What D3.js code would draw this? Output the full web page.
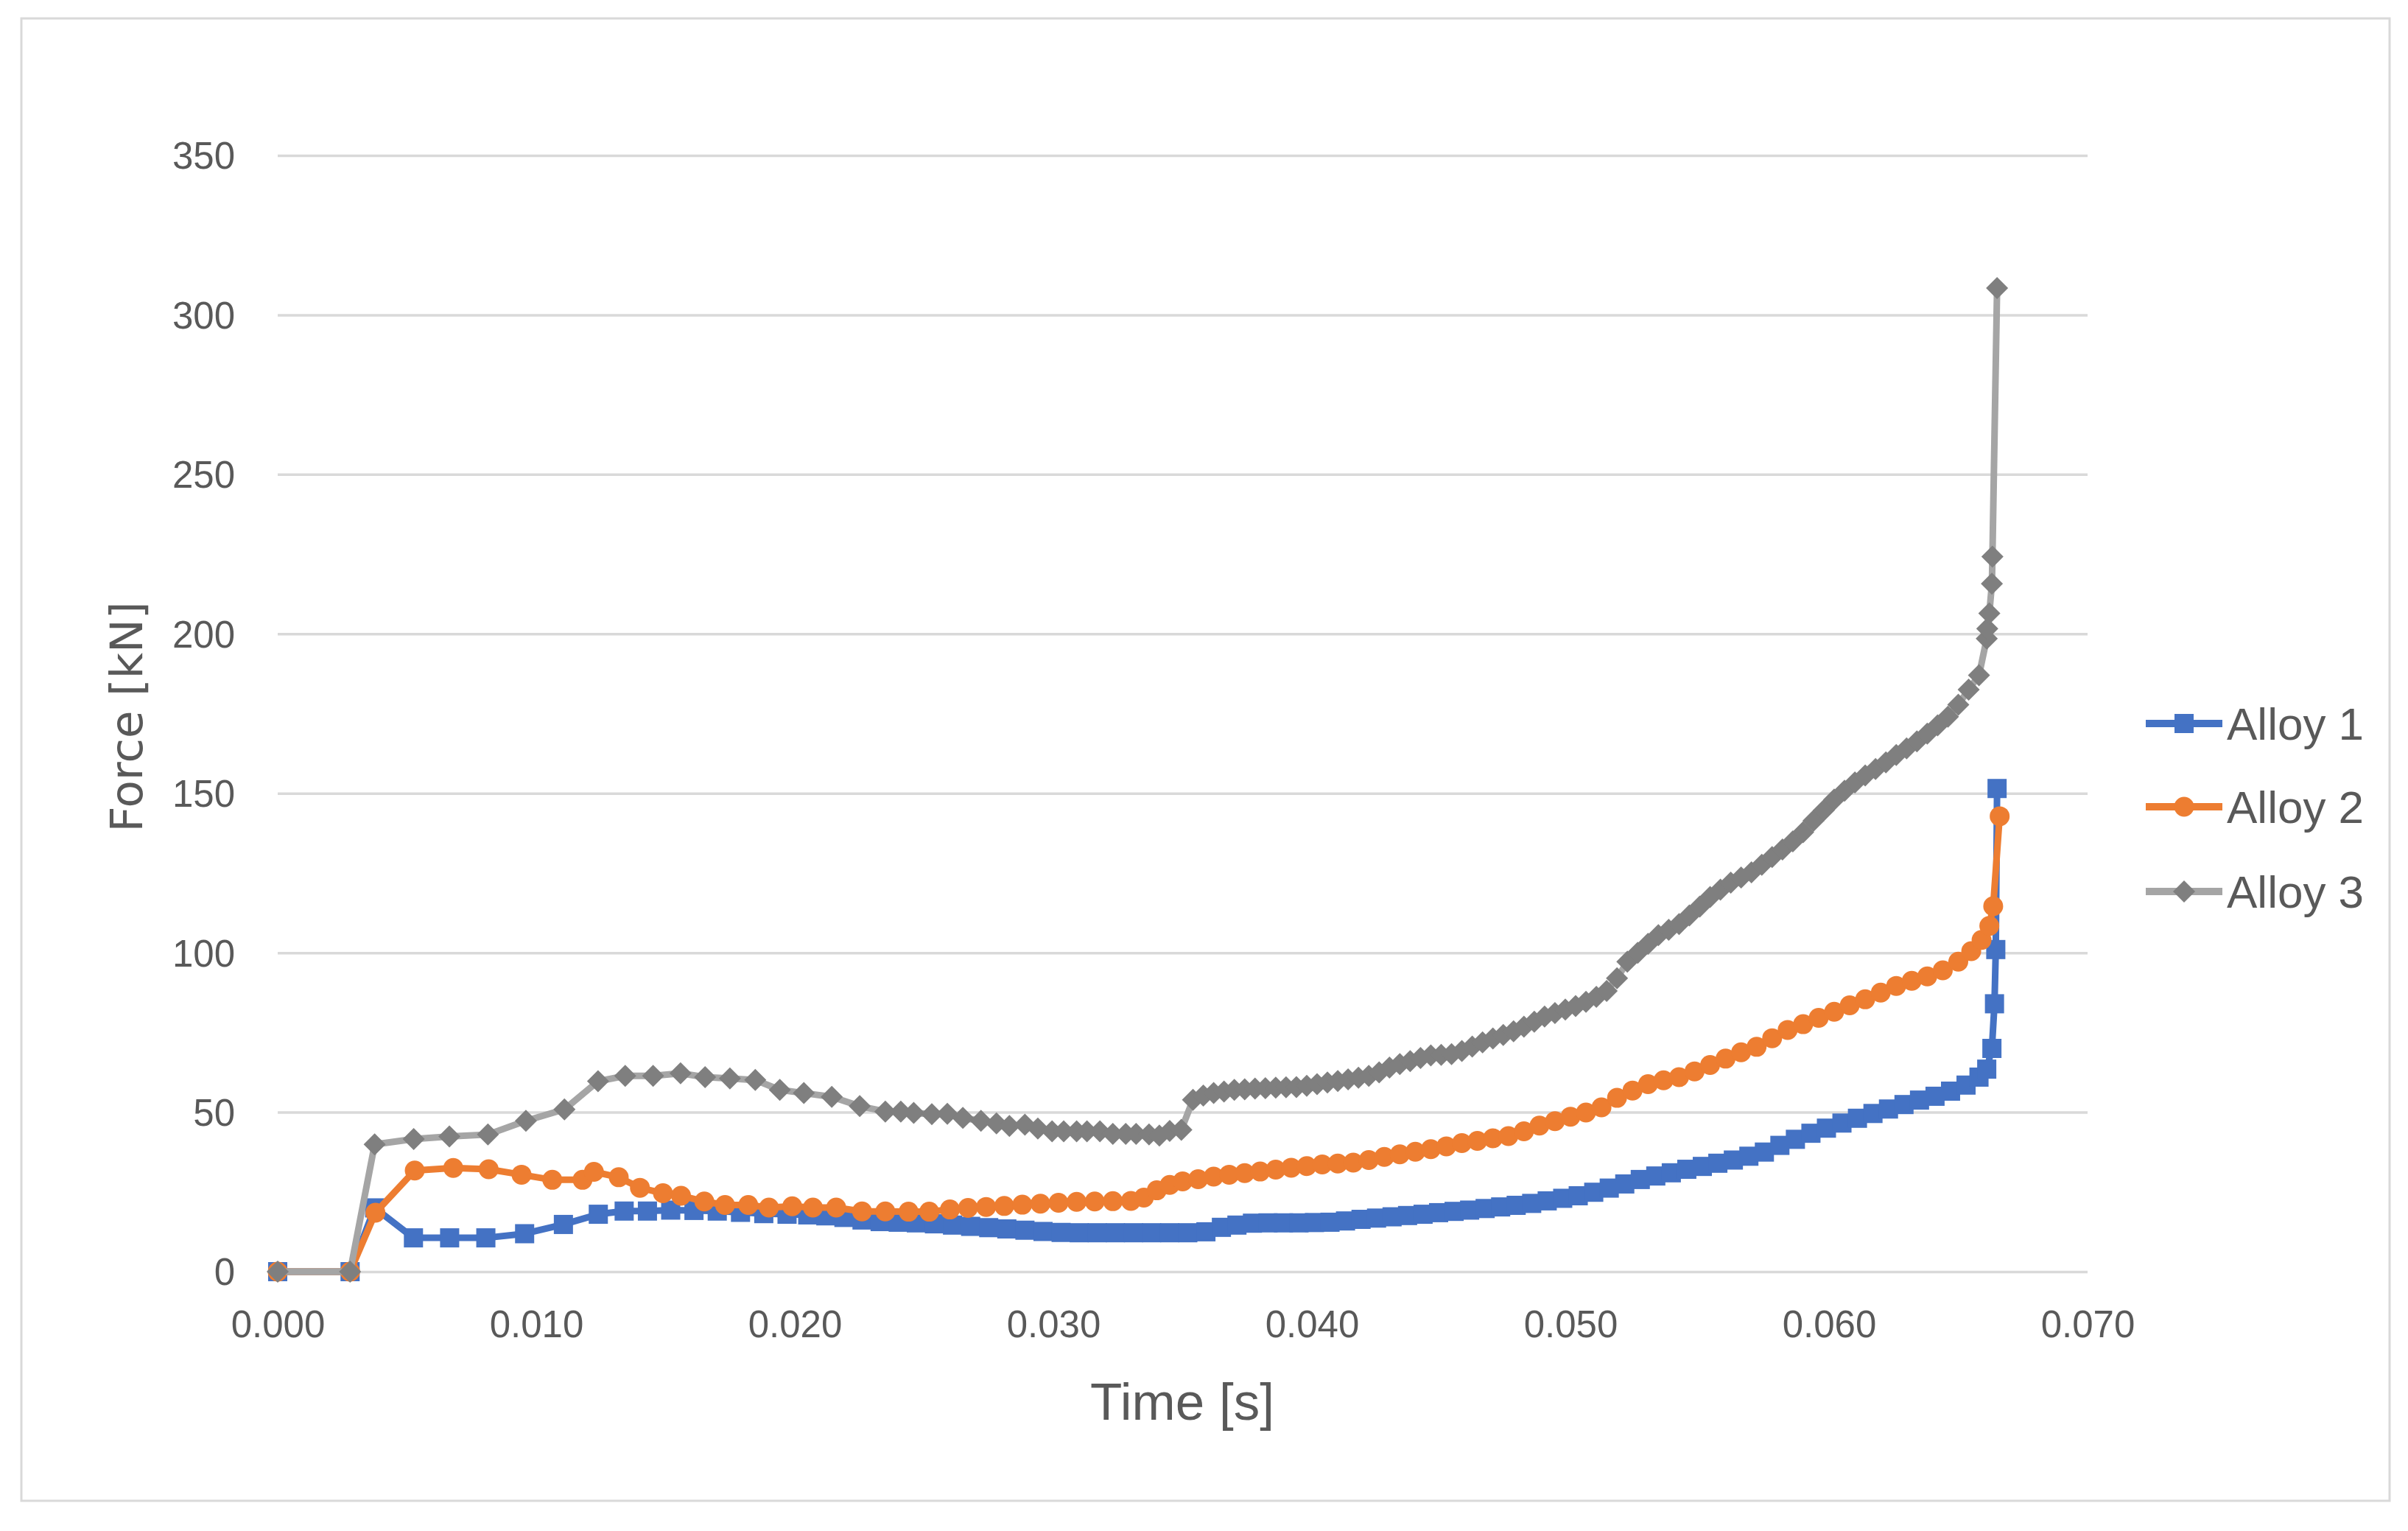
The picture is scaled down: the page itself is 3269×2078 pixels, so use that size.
<!DOCTYPE html>
<html><head><meta charset="utf-8">
<script src="https://cdn.jsdelivr.net/npm/d3@7/dist/d3.min.js"></script>
<style>html,body{margin:0;padding:0;background:#fff;}svg{display:block;}</style>
</head><body>
<script>
// ---------- DATA ----------
const seriesNames = ["Alloy 1", "Alloy 2", "Alloy 3"];
const seriesColors = ["#4472C4", "#ED7D31", "#A5A5A5"];
const markerColors = ["#4472C4", "#ED7D31", "#7F7F7F"];

// time in ms
const alloy1Time = [0,2.8,3.75,5.25,6.65,8.05,9.55,11.05,12.4,13.4,14.3,15.2,16.1,17.0,17.9,18.8,19.7,
  20.5,21.2,21.9,22.6,23.3,24.0,24.7,25.4,26.1,26.8,27.5,28.2,28.9,29.6,30.3,31.0,31.7,32.4,33.1,33.8,34.5,35.2,35.9,
  36.5,37.1,37.7,38.3,38.9,39.5,40.1,40.7,41.3,41.9,42.5,43.1,43.7,44.3,44.9,45.5,46.1,46.7,47.3,47.9,48.5,49.1,49.7,
  50.3,50.9,51.5,52.1,52.7,53.3,53.9,54.5,55.1,55.7,56.3,56.9,57.5,58.1,58.7,59.3,59.9,60.5,61.1,61.7,62.3,62.9,63.5,
  64.1,64.7,65.3,65.8,66.1,66.3,66.4,66.45,66.5];
const alloy1Force = [0,0,20.0,10.6,10.6,10.6,11.9,14.8,18.0,19.0,19.0,19.3,19.2,19.0,18.6,18.2,18.0,
  17.8,17.5,17.0,16.2,15.7,15.5,15.3,15.0,14.6,14.2,13.8,13.4,13.0,12.6,12.3,12.2,12.2,12.2,12.2,12.2,12.2,12.2,12.5,
  13.9,14.6,15.2,15.3,15.3,15.3,15.4,15.5,15.9,16.4,16.8,17.2,17.6,18.0,18.5,18.9,19.3,19.8,20.3,20.8,21.4,22.2,23.0,
  23.8,24.9,26.2,27.5,28.9,30.0,31.0,32.1,33.0,34.0,35.0,36.2,37.5,39.6,41.5,43.4,45.0,46.6,48.1,49.6,51.0,52.4,53.8,
  55.0,56.6,58.5,61.0,63.5,70.0,84.0,101.0,151.5];

const alloy2Time = [0,2.8,3.78,5.3,6.79,8.16,9.43,10.62,11.79,12.23,13.19,14.01,14.9,15.6,16.5,17.3,18.2,19.0,
  19.9,20.7,21.6,22.6,23.5,24.4,25.2,26.0,26.7,27.4,28.1,28.8,29.5,30.2,30.9,31.6,32.3,33.0,33.5,34.0,34.5,35.0,
  35.6,36.2,36.8,37.4,38.0,38.6,39.2,39.8,40.4,41.0,41.6,42.2,42.8,43.4,44.0,44.6,45.2,45.8,46.4,47.0,
  47.6,48.2,48.8,49.4,50.0,50.6,51.2,51.8,52.4,53.0,53.6,54.2,54.8,55.4,56.0,56.6,57.2,57.8,58.4,59.0,
  59.6,60.2,60.8,61.4,62.0,62.6,63.2,63.8,64.4,65.0,65.5,65.9,66.2,66.35,66.6];
const alloy2Force = [0,0,18.5,31.7,32.5,32.1,30.4,28.8,28.8,31.3,29.6,26.3,24.6,23.8,22.0,20.9,20.9,20.1,
  20.5,20.1,20.1,18.9,18.9,18.8,18.8,19.5,20.0,20.3,20.6,21.0,21.3,21.6,21.9,22.0,22.1,22.2,23.2,25.5,27.2,28.3,
  29.0,29.8,30.4,30.9,31.4,32.0,32.6,33.1,33.6,33.9,34.2,35.0,36.0,36.8,37.6,38.4,39.3,40.3,41.0,41.8,
  42.5,44.0,45.8,47.2,48.6,49.9,51.5,54.5,56.8,58.8,60.0,61.0,62.8,64.8,66.8,68.8,70.5,73.2,75.8,77.6,
  79.6,81.5,83.5,85.4,87.5,89.6,91.2,92.6,94.5,97.2,100.5,104.0,108.4,114.6,142.8];

const alloy3Time = [0,2.8,3.75,5.26,6.64,8.13,9.60,11.09,12.39,13.44,14.52,15.58,16.53,17.49,18.47,19.42,20.35,21.43,22.51,
  23.5,24.1,24.6,25.3,25.9,26.5,27.2,27.8,28.3,28.9,29.4,29.95,30.4,30.9,31.3,31.8,32.3,32.8,33.2,33.7,34.1,34.5,34.95,
  35.4,35.8,36.2,36.6,37.0,37.4,37.8,38.2,38.6,39.0,39.4,39.8,40.2,40.6,41.0,41.4,41.8,42.2,42.6,43.0,
  43.4,43.8,44.2,44.6,45.0,45.4,45.8,46.2,46.6,47.0,47.4,47.8,48.2,48.6,49.0,49.4,49.8,50.2,50.6,51.0,
  51.4,51.8,52.2,52.6,53.0,53.4,53.8,54.2,54.6,55.0,55.4,55.8,56.2,56.6,57.0,57.4,57.8,58.2,58.6,59.0,
  59.4,59.8,60.2,60.6,61.0,61.4,61.8,62.2,62.6,63.0,63.4,63.8,64.2,64.6,65.0,65.4,65.8,
  66.1,66.12,66.2,66.3,66.32,66.5];
const alloy3Force = [0,0,39.9,41.6,42.4,43.0,47.3,50.9,59.7,61.4,61.4,62.2,61.0,60.6,60.1,57.0,56.0,54.8,51.9,
  50.2,50.2,49.8,49.4,49.5,48.2,47.3,46.5,45.7,46.1,44.9,44.0,44.0,44.0,44.0,44.0,43.2,43.2,43.2,43.0,42.7,44.1,44.5,
  53.9,55.2,56.0,56.5,57.0,57.2,57.4,57.5,57.7,57.8,57.9,58.3,58.8,59.3,59.8,60.3,60.8,61.4,62.5,64.0,
  65.1,66.0,67.0,67.8,68.0,68.2,69.2,70.6,71.9,73.1,74.2,75.4,76.8,78.4,80.0,81.1,82.2,83.3,84.6,86.2,
  88.0,92.0,97.2,100.0,102.8,105.5,107.2,109.0,111.7,114.5,117.5,119.8,122.0,123.6,125.2,127.6,130.0,132.4,134.9,137.8,
  141.4,144.7,148.0,150.8,153.4,155.6,157.6,159.7,162.0,164.1,166.3,168.7,171.3,174.0,177.8,182.5,187.0,
  198.5,201.6,206.4,215.7,224.2,308.4];

const xTicks = [0,10,20,30,40,50,60,70];
const xTickLabels = ["0.000","0.010","0.020","0.030","0.040","0.050","0.060","0.070"];
const yTicks = [0,50,100,150,200,250,300,350];
const xTitle = "Time [s]";
const yTitle = "Force [kN]";

// ---------- CHART ----------
const W = 3269, H = 2078;
const plot = {left: 377, right: 2834, top: 211, bottom: 1726};
const textColor = "#595959";
const gridColor = "#D9D9D9";
const tickFont = "'Liberation Sans', Arial, sans-serif";

const svg = d3.select("body").append("svg").attr("width", W).attr("height", H);
svg.append("rect").attr("width", W).attr("height", H).attr("fill", "#fff");
svg.append("rect").attr("x", 29).attr("y", 25).attr("width", 3244 - 29).attr("height", 2037 - 25)
  .attr("fill", "none").attr("stroke", gridColor).attr("stroke-width", 3);

const x = d3.scaleLinear().domain([0, 70]).range([plot.left, plot.right]);
const y = d3.scaleLinear().domain([0, 350]).range([plot.bottom, plot.top]);

// y axis + gridlines
const yAxis = d3.axisLeft(y).tickValues(yTicks).tickSize(-(plot.right - plot.left)).tickPadding(58).tickFormat(d3.format("d"));
const gy = svg.append("g").attr("transform", `translate(${plot.left},0)`).call(yAxis);
gy.select(".domain").remove();
gy.selectAll(".tick line").attr("stroke", gridColor).attr("stroke-width", 3.5);
gy.selectAll(".tick text").attr("fill", textColor).attr("font-family", tickFont).attr("font-size", 51).attr("dy", "0.35em");

// x axis
const xAxis = d3.axisBottom(x).tickValues(xTicks).tickSize(0).tickFormat((d, i) => xTickLabels[i]);
const gx = svg.append("g").attr("transform", `translate(0,${plot.bottom})`).call(xAxis);
gx.select(".domain").remove();
gx.selectAll(".tick text").attr("fill", textColor).attr("font-family", tickFont).attr("font-size", 51)
  .attr("y", 71).attr("dy", "0.35em");

// axis titles
svg.append("text").attr("x", 1605).attr("y", 1902).attr("text-anchor", "middle").attr("dy", "0.35em")
  .attr("fill", textColor).attr("font-family", tickFont).attr("font-size", 71).text(xTitle);
svg.append("text").attr("transform", "translate(172,973) rotate(-90)").attr("text-anchor", "middle").attr("dy", "0.35em")
  .attr("fill", textColor).attr("font-family", "'DejaVu Sans', sans-serif").attr("font-size", 61).text(yTitle);

// series
const series = [
  {name: seriesNames[0], data: alloy1Time.map((t, i) => ({t, f: alloy1Force[i]})), marker: "square"},
  {name: seriesNames[1], data: alloy2Time.map((t, i) => ({t, f: alloy2Force[i]})), marker: "circle"},
  {name: seriesNames[2], data: alloy3Time.map((t, i) => ({t, f: alloy3Force[i]})), marker: "diamond"}
];

function markerPath(kind) {
  if (kind === "square") return "M-13,-13H13V13H-13Z";
  if (kind === "circle") return d3.symbol(d3.symbolCircle, Math.PI * 13.5 * 13.5)();
  return "M0,-15L15,0L0,15L-15,0Z";
}

const line = d3.line().x(d => x(d.t)).y(d => y(d.f));

series.forEach((s, i) => {
  const g = svg.append("g");
  g.append("path").datum(s.data).attr("d", line).attr("fill", "none")
    .attr("stroke", seriesColors[i]).attr("stroke-width", 9).attr("stroke-linejoin", "round").attr("stroke-linecap", "round");
  g.selectAll("path.m").data(s.data).enter().append("path").attr("class", "m")
    .attr("transform", d => `translate(${x(d.t)},${y(d.f)})`)
    .attr("d", markerPath(s.marker)).attr("fill", markerColors[i]);
});

// legend
const legendY = [982, 1095, 1210];
series.forEach((s, i) => {
  const g = svg.append("g").attr("transform", `translate(0,${legendY[i]})`);
  g.append("line").attr("x1", 2913).attr("x2", 3017).attr("y1", 0).attr("y2", 0)
    .attr("stroke", seriesColors[i]).attr("stroke-width", 10);
  g.append("path").attr("transform", "translate(2965,0)").attr("d", markerPath(s.marker)).attr("fill", markerColors[i]);
  g.append("text").attr("x", 3023).attr("y", 0).attr("dy", "0.35em").attr("fill", textColor)
    .attr("font-family", tickFont).attr("font-size", 62).text(s.name);
});
</script>
</body></html>
